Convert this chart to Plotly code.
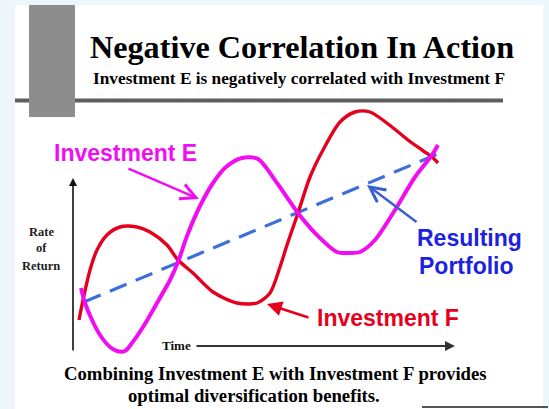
import plotly.graph_objects as go

# ---------------- data (conceptual units: time, rate of return) ----------------
e_time = [0.8, 1.2, 1.9, 2.7, 3.7, 4.4, 5.2, 5.9, 7.0, 8.4, 9.7, 10.5, 11.4, 12.7, 14.0,
          15.3, 16.9, 18.5, 20.4, 22.5, 24.2, 26.4, 27.7, 28.7, 30.2, 32.2, 34.2, 35.9, 36.5]
e_return = [6.4, 4.9, 3.2, 1.7, 0.5, 0.1, 0.1, 0.9, 2.5, 4.9, 7.2, 9.0, 11.6, 14.6, 16.9,
            18.5, 19.4, 19.3, 16.9, 13.9, 11.9, 10.0, 9.9, 10.0, 11.2, 14.2, 17.5, 19.7, 20.7]

f_time = [0.6, 1.0, 1.7, 2.4, 3.4, 4.7, 6.4, 7.7, 9.4, 10.5, 12.0, 14.0, 16.4, 18.4, 19.7,
          20.7, 21.5, 22.5, 23.7, 25.0, 26.7, 28.2, 29.7, 31.9, 33.5, 34.9, 35.9, 36.5]
f_return = [3.2, 5.2, 8.2, 10.2, 11.7, 12.5, 12.5, 12.0, 10.7, 9.2, 7.9, 6.0, 4.9, 4.9, 5.9,
            8.5, 11.0, 13.9, 17.5, 20.2, 23.0, 24.0, 24.0, 22.5, 21.2, 20.2, 19.5, 18.9]

portfolio_time = [1.1, 37.2]
portfolio_return = [5.0, 20.1]

title_text = "Negative Correlation In Action"
subtitle_text = "Investment E is negatively correlated with Investment F"
footer_lines = ["Combining Investment E with Investment F provides",
                "optimal diversification benefits."]
y_label_lines = ["Rate", "of", "Return"]
x_label = "Time"

# ---------------- layout helpers ----------------
W, H = 549, 409
def px(x):
    return x / W
def py(y):
    return 1 - y / H

MAGENTA = "#f20cf2"
RED = "#e5001e"
BLUE_LINE = "#3d6fdc"
BLUE_TEXT = "#1c22e0"
SERIF = "Liberation Serif, Times New Roman, serif"
SANS = "Liberation Sans, Arial, sans-serif"

fig = go.Figure()

fig.add_trace(go.Scatter(x=portfolio_time, y=portfolio_return, mode="lines",
                         line=dict(color=BLUE_LINE, width=3.2, dash="18px,10px"),
                         hoverinfo="skip", showlegend=False))
fig.add_trace(go.Scatter(x=f_time, y=f_return, mode="lines",
                         line=dict(color=RED, width=3.4, shape="spline", smoothing=0.8),
                         hoverinfo="skip", showlegend=False))
fig.add_trace(go.Scatter(x=e_time, y=e_return, mode="lines",
                         line=dict(color=MAGENTA, width=4, shape="spline", smoothing=0.8),
                         hoverinfo="skip", showlegend=False))

shapes = [
    # white inner panel
    dict(type="rect", xref="paper", yref="paper", x0=px(15), x1=px(543), y0=py(409), y1=py(5),
         fillcolor="white", line=dict(width=0), layer="below"),
    # header rule
    dict(type="line", xref="paper", yref="paper", x0=px(15), x1=px(503), y0=py(100.5), y1=py(100.5),
         line=dict(color="#5e5e5e", width=4), layer="below"),
    # gray block
    dict(type="rect", xref="paper", yref="paper", x0=px(29), x1=px(75), y0=py(117), y1=py(5),
         fillcolor="#8d8d8d", line=dict(width=0), layer="below"),
    # bottom right rule
    dict(type="line", xref="paper", yref="paper", x0=px(422), x1=px(548), y0=py(407), y1=py(407),
         line=dict(color="#555555", width=2), layer="below"),
]

def ptext(text, x, y, size, family=SERIF, color="#000"):
    return dict(text=text, xref="paper", yref="paper", x=px(x), y=py(y),
                xanchor="center", yanchor="middle", showarrow=False,
                font=dict(family=family, size=size, color=color))

ann = []
# titles
ann.append(ptext("<b>" + title_text + "</b>", 301.5, 47, 32.2))
ann.append(ptext("<b>" + subtitle_text + "</b>", 298.5, 79, 17.3))
ann.append(ptext("<b>" + footer_lines[0] + "</b>", 275, 373, 18.7))
ann.append(ptext("<b>" + footer_lines[1] + "</b>", 254, 395, 18.7))

# axes arrows (data coords)
ann.append(dict(x=0, y=17.4, ax=0, ay=0, axref="x", ayref="y", text="", showarrow=True,
                arrowhead=2, arrowsize=1, arrowwidth=1.6, arrowcolor="#111"))
ann.append(dict(x=38.2, y=0.6, ax=12.2, ay=0.6, axref="x", ayref="y", text="", showarrow=True,
                arrowhead=2, arrowsize=1, arrowwidth=2, arrowcolor="#333"))
ann.append(dict(x=10.3, y=0.7, text="<b>" + x_label + "</b>", showarrow=False,
                xanchor="center", yanchor="middle",
                font=dict(family=SERIF, size=13, color="#111")))
for lbl, yy in zip(y_label_lines, [12.0, 10.4, 8.6]):
    ann.append(dict(x=-3.2, y=yy, text="<b>" + lbl + "</b>", showarrow=False,
                    xanchor="center", yanchor="middle",
                    font=dict(family=SERIF, size=12.5, color="#222")))

# series labels
ann.append(dict(x=5.2, y=19.9, text="<b>Investment E</b>", showarrow=False,
                xanchor="center", yanchor="middle",
                font=dict(family=SANS, size=23, color=MAGENTA)))
ann.append(dict(x=12.6, y=15.3, ax=5.4, ay=18.4, axref="x", ayref="y", text="", showarrow=True,
                arrowhead=5, arrowsize=1.2, arrowwidth=2.5, arrowcolor=MAGENTA))

ann.append(dict(x=31.5, y=3.4, text="<b>Investment F</b>", showarrow=False,
                xanchor="center", yanchor="middle",
                font=dict(family=SANS, size=23, color=RED)))
ann.append(dict(x=19.4, y=4.8, ax=23.7, ay=3.4, axref="x", ayref="y", text="", showarrow=True,
                arrowhead=2, arrowsize=1.2, arrowwidth=2.5, arrowcolor=RED))

ann.append(dict(x=39.6, y=11.4, text="<b>Resulting</b>", showarrow=False,
                xanchor="center", yanchor="middle",
                font=dict(family=SANS, size=23, color=BLUE_TEXT)))
ann.append(dict(x=39.3, y=8.6, text="<b>Portfolio</b>", showarrow=False,
                xanchor="center", yanchor="middle",
                font=dict(family=SANS, size=23, color=BLUE_TEXT)))
ann.append(dict(x=29.4, y=16.7, ax=34.5, ay=12.9, axref="x", ayref="y", text="", showarrow=True,
                arrowhead=5, arrowsize=1.2, arrowwidth=2.5, arrowcolor="#3a5fd2"))

fig.update_layout(
    width=W, height=H, autosize=False,
    margin=dict(l=0, r=0, t=0, b=0, pad=0),
    paper_bgcolor="#edf6fb", plot_bgcolor="rgba(0,0,0,0)",
    xaxis=dict(range=[-7.3, 47.6], visible=False, fixedrange=True),
    yaxis=dict(range=[-5.7, 35.2], visible=False, fixedrange=True),
    shapes=shapes, annotations=ann, showlegend=False,
)

fig.write_html("out.html", config={"displayModeBar": False, "staticPlot": True},
               post_script="document.body.style.margin='0';document.body.style.overflow='hidden';")
